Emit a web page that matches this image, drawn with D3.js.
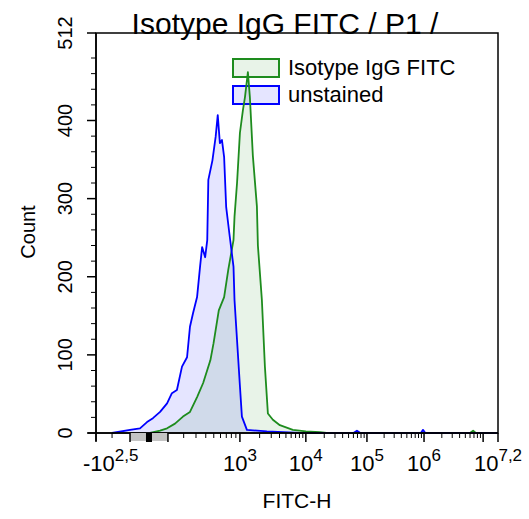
<!DOCTYPE html>
<html lang="en">
<head>
<meta charset="utf-8">
<style>
body { margin: 0; background: #fff; }
svg { display: block; font-family: "Liberation Sans", Arial, Helvetica, sans-serif; }
</style>
</head>
<body>
<script src="https://cdn.jsdelivr.net/npm/d3@7"></script>
<script>

// unstained sample (FITC-H value, count)
var fitcUnstained = [-200, -100, -46, -10, 20, 57, 95, 123, 154, 188, 225, 248, 273, 310, 339, 360,
  393, 417, 430, 482, 526, 557, 590, 624, 661, 698, 758, 846, 869, 917, 995, 1073, 1280, 2576,
  8120, 60000, 68600, 78000, 880000, 960000, 1050000, 15848932];
var countUnstained = [0, 4, 6, 14, 19, 27, 38, 51, 55, 85, 97, 136, 153, 174, 213, 238,
  225, 247, 324, 349, 379, 407, 371, 375, 353, 289, 256, 213, 170, 128, 64, 21, 4, 2,
  0, 0, 3, 0, 0, 4, 0, 0];

// isotype control
var fitcIsotype = [5, 57, 95, 142, 195, 248, 310, 371, 455, 497, 573, 661, 738, 846, 869, 928,
  1000, 1111, 1196, 1325, 1421, 1577, 1818, 1882, 2164, 2404, 2668, 3174, 4050, 6362, 10000,
  16960, 21880, 6000000, 6770000, 7500000];
var countIsotype = [0, 3, 6, 12, 21, 27, 46, 64, 93, 115, 157, 174, 209, 247, 277, 320,
  384, 413, 430, 462, 430, 355, 290, 240, 170, 85, 25, 17, 10, 4, 2,
  1, 0, 0, 3, 0];

var seriesNames = ["Isotype IgG FITC", "unstained"];
var seriesColors = ["#1e8c1e", "#0000ff"];

// logicle-like axis anchors (value -> fraction of plot width)
var xAnchors = [-Math.pow(10, 2.5), -100, 0, 100, 1e3, 1e4, 1e5, 1e6, 1e7, Math.pow(10, 7.2)];
var xAnchorFrac = [0, 0.0846, 0.1318, 0.179, 0.358, 0.522, 0.674, 0.816, 0.963, 1];
var xMajor = [-100, 0, 100, 1e3, 1e4, 1e5, 1e6, 1e7];
var xLabels = [
  {v: -Math.pow(10, 2.5), base: "-10", sup: "2,5"},
  {v: 1e3, base: "10", sup: "3"},
  {v: 1e4, base: "10", sup: "4"},
  {v: 1e5, base: "10", sup: "5"},
  {v: 1e6, base: "10", sup: "6"},
  {v: Math.pow(10, 7.2), base: "10", sup: "7,2"}
];
var yMajor = [0, 100, 200, 300, 400, 512];

var width = 529, height = 519;
var margin = {top: 33, right: 31, bottom: 86, left: 96};
var w = width - margin.left - margin.right,
    h = height - margin.top - margin.bottom;

function t(v) { return Math.asinh(v / 200); }

var x = d3.scaleLinear()
    .domain(xAnchors.map(t))
    .range(xAnchorFrac.map(function(f) { return margin.left + f * w; }));
function xv(v) { return x(t(v)); }

var y = d3.scaleLinear()
    .domain([0, 512])
    .range([margin.top + h, margin.top]);

var svg = d3.select("body").append("svg")
    .attr("width", width)
    .attr("height", height);

svg.append("rect").attr("width", width).attr("height", height).attr("fill", "#fff");

// legend (curves are drawn over it)
var leg = svg.append("g");
seriesNames.forEach(function(name, i) {
  var ly = 59 + i * 27;
  leg.append("rect")
      .attr("x", 233).attr("y", ly)
      .attr("width", 46).attr("height", 18)
      .attr("fill", seriesColors[i]).attr("fill-opacity", 0.1)
      .attr("stroke", seriesColors[i]).attr("stroke-width", 2);
  leg.append("text")
      .attr("x", 288).attr("y", ly + 16)
      .attr("font-size", 22)
      .text(name);
});

var area = d3.area()
    .x(function(d) { return xv(d[0]); })
    .y0(y(0))
    .y1(function(d) { return y(d[1]); });
var line = d3.line()
    .x(function(d) { return xv(d[0]); })
    .y(function(d) { return y(d[1]); });

var series = [
  d3.zip(fitcIsotype, countIsotype),
  d3.zip(fitcUnstained, countUnstained)
];

series.forEach(function(s, i) {
  svg.append("path").datum(s)
      .attr("d", area)
      .attr("fill", seriesColors[i])
      .attr("fill-opacity", 0.1);
});
series.forEach(function(s, i) {
  svg.append("path").datum(s)
      .attr("d", line)
      .attr("fill", "none")
      .attr("stroke", seriesColors[i])
      .attr("stroke-width", 1.8)
      .attr("stroke-linejoin", "round");
});

// frame
svg.append("rect")
    .attr("x", margin.left).attr("y", margin.top)
    .attr("width", w).attr("height", h)
    .attr("fill", "none").attr("stroke", "#000").attr("stroke-width", 1.5);

var bottom = margin.top + h;

// axis lines stick out a little at the corner
svg.append("line")
    .attr("x1", margin.left - 8).attr("x2", margin.left + w)
    .attr("y1", bottom).attr("y2", bottom)
    .attr("stroke", "#000").attr("stroke-width", 1.5);
svg.append("line")
    .attr("x1", margin.left).attr("x2", margin.left)
    .attr("y1", margin.top).attr("y2", bottom + 8)
    .attr("stroke", "#000").attr("stroke-width", 1.5);

// linear region marker
svg.append("rect")
    .attr("x", xv(-100)).attr("y", bottom)
    .attr("width", xv(100) - xv(-100)).attr("height", 8)
    .attr("fill", "#c4c4c4");
svg.append("rect")
    .attr("x", xv(0) - 3).attr("y", bottom)
    .attr("width", 6).attr("height", 9)
    .attr("fill", "#000");

// x minor ticks
var xMinor = [-200];
for (var e = 2; e <= 6; e++) {
  for (var k = 2; k <= 9; k++) xMinor.push(k * Math.pow(10, e));
}
svg.selectAll(".xminor").data(xMinor).enter().append("line")
    .attr("x1", xv).attr("x2", xv)
    .attr("y1", bottom).attr("y2", bottom + 5)
    .attr("stroke", "#000").attr("stroke-width", 1);
svg.selectAll(".xmajor").data(xMajor.concat(xAnchors[0], xAnchors[xAnchors.length - 1])).enter().append("line")
    .attr("x1", xv).attr("x2", xv)
    .attr("y1", bottom).attr("y2", bottom + 9)
    .attr("stroke", "#000").attr("stroke-width", 1.5);

// x labels with superscript exponents
xLabels.forEach(function(l, i) {
  var first = i === 0;
  var txt = svg.append("text")
      .attr("x", first ? xv(l.v) - 13 : xv(l.v))
      .attr("y", 471)
      .attr("text-anchor", first ? "start" : "middle")
      .attr("font-size", 22);
  txt.append("tspan").text(l.base);
  txt.append("tspan").attr("dy", -10).attr("font-size", 17).text(l.sup);
});

svg.append("text")
    .attr("x", 297).attr("y", 508)
    .attr("text-anchor", "middle")
    .attr("font-size", 21)
    .text("FITC-H");

// y ticks
var yMinor = d3.range(20, 512, 20).filter(function(v) { return v % 100 !== 0; });
svg.selectAll(".yminor").data(yMinor).enter().append("line")
    .attr("x1", margin.left - 5).attr("x2", margin.left)
    .attr("y1", y).attr("y2", y)
    .attr("stroke", "#000").attr("stroke-width", 1);
svg.selectAll(".ymajor").data(yMajor).enter().append("line")
    .attr("x1", margin.left - 9).attr("x2", margin.left)
    .attr("y1", y).attr("y2", y)
    .attr("stroke", "#000").attr("stroke-width", 1.5);
svg.selectAll(".ylab").data(yMajor).enter().append("text")
    .attr("transform", function(d) { return "translate(72," + y(d) + ") rotate(-90)"; })
    .attr("text-anchor", "middle")
    .attr("font-size", 20)
    .text(function(d) { return d; });

svg.append("text")
    .attr("transform", "translate(35,232) rotate(-90)")
    .attr("text-anchor", "middle")
    .attr("font-size", 20)
    .text("Count");

svg.append("text")
    .attr("x", 285).attr("y", 34)
    .attr("text-anchor", "middle")
    .attr("font-size", 30)
    .text("Isotype IgG FITC / P1 /");

</script>
</body>
</html>
